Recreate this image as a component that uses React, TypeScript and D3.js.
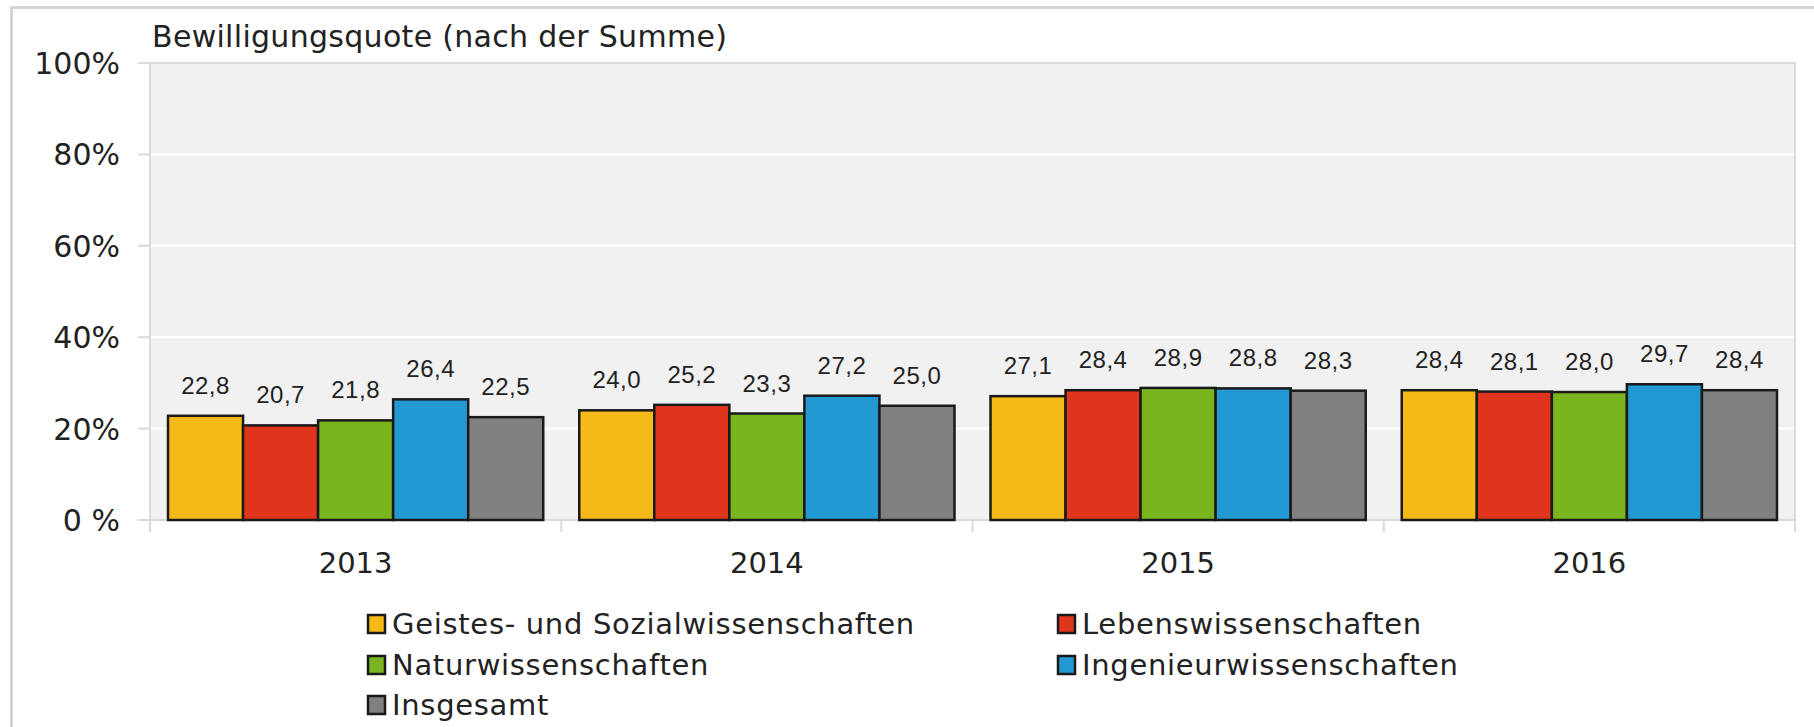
import React from "react";
import * as d3 from "d3";

const years = ["2013", "2014", "2015", "2016"];
const seriesNames = [
  "Geistes- und Sozialwissenschaften",
  "Lebenswissenschaften",
  "Naturwissenschaften",
  "Ingenieurwissenschaften",
  "Insgesamt",
];
const seriesColors = ["#f5b918", "#e0341c", "#7ab41f", "#2399d3", "#808080"];
const geistes = [22.8, 24.0, 27.1, 28.4];
const leben = [20.7, 25.2, 28.4, 28.1];
const natur = [21.8, 23.3, 28.9, 28.0];
const ingenieur = [26.4, 27.2, 28.8, 29.7];
const insgesamt = [22.5, 25.0, 28.3, 28.4];
const seriesValues = [geistes, leben, natur, ingenieur, insgesamt];
const yTicks = [0, 20, 40, 60, 80, 100];
const yTickLabels = ["0 %", "20%", "40%", "60%", "80%", "100%"];
const title = "Bewilligungsquote (nach der Summe)";

const W = 1814;
const H = 727;
const left = 150;
const right = 1795;
const top = 63;
const bottom = 520;

export default function App() {
  const x0 = d3.scaleBand<string>().domain(years).range([left, right]).padding(0);
  const x1 = d3
    .scaleBand<string>()
    .domain(seriesNames)
    .range([0, x0.bandwidth()])
    .paddingInner(0)
    .paddingOuter(0.24);
  const y = d3.scaleLinear().domain([0, 100]).range([bottom, top]);
  const fmt = (v: number) => d3.format(".1f")(v).replace(".", ",");
  const font = "'DejaVu Sans', Verdana, sans-serif";
  const grid = "#dadada";

  const legendPos = [
    [367, 624],
    [1057, 624],
    [367, 665],
    [1057, 665],
    [367, 705],
  ];

  return (
    <svg
      width={W}
      height={H}
      style={{ position: "absolute", left: 0, top: 0, background: "#fff" }}
    >
      {/* outer frame */}
      <line x1={11.5} y1={7} x2={11.5} y2={H} stroke="#d4d4d4" strokeWidth={3} />
      <line x1={10} y1={7.5} x2={W} y2={7.5} stroke="#d4d4d4" strokeWidth={3} />

      {/* title */}
      <text x={152} y={47} fontFamily={font} fontSize={30} letterSpacing={0.3} fill="#222">
        {title}
      </text>

      {/* plot background */}
      <rect
        x={left}
        y={top}
        width={right - left}
        height={bottom - top}
        fill="#f1f1f1"
        stroke={grid}
        strokeWidth={2}
      />
      {yTicks
        .filter((t) => t > 0 && t < 100)
        .map((t) => (
          <line key={t} x1={left + 1} x2={right - 1} y1={y(t)} y2={y(t)} stroke="#fff" strokeWidth={2} />
        ))}

      {/* y ticks & labels */}
      {yTicks.map((t, i) => (
        <g key={t}>
          <line x1={138} x2={left} y1={y(t)} y2={y(t)} stroke={grid} strokeWidth={2} />
          <text
            x={120}
            y={y(t) + 11}
            textAnchor="end"
            fontFamily={font}
            fontSize={30}
            fill="#222"
          >
            {yTickLabels[i]}
          </text>
        </g>
      ))}

      {/* x axis */}
      <line x1={138} x2={right} y1={bottom} y2={bottom} stroke={grid} strokeWidth={2} />
      {[...years.map((yr) => x0(yr) as number), right].map((xv, i) => (
        <line key={i} x1={xv} x2={xv} y1={bottom} y2={532} stroke={grid} strokeWidth={2} />
      ))}
      {years.map((yr) => (
        <text
          key={yr}
          x={(x0(yr) as number) + x0.bandwidth() / 2}
          y={573}
          textAnchor="middle"
          fontFamily={font}
          fontSize={29}
          fill="#222"
        >
          {yr}
        </text>
      ))}

      {/* bars */}
      {years.map((yr, yi) => (
        <g key={yr} transform={`translate(${x0(yr)},0)`}>
          {seriesNames.map((s, si) => {
            const v = seriesValues[si][yi];
            const bx = x1(s) as number;
            return (
              <g key={s}>
                <rect
                  x={bx}
                  y={y(v)}
                  width={x1.bandwidth()}
                  height={bottom - y(v)}
                  fill={seriesColors[si]}
                  stroke="#1a1a1a"
                  strokeWidth={2.5}
                />
                <text
                  x={bx + x1.bandwidth() / 2}
                  y={y(v) - 22}
                  textAnchor="middle"
                  fontFamily="'Liberation Sans', Arial, sans-serif"
                  fontSize={24}
                  letterSpacing={0.5}
                  fill="#222"
                >
                  {fmt(v)}
                </text>
              </g>
            );
          })}
        </g>
      ))}

      {/* legend */}
      {seriesNames.map((s, i) => (
        <g key={s} transform={`translate(${legendPos[i][0]},${legendPos[i][1]})`}>
          <rect x={1} y={-9} width={17} height={18} fill={seriesColors[i]} stroke="#1a1a1a" strokeWidth={2.5} />
          <text x={25} y={10} fontFamily={font} fontSize={29} letterSpacing={0.7} fill="#222">
            {s}
          </text>
        </g>
      ))}
    </svg>
  );
}
